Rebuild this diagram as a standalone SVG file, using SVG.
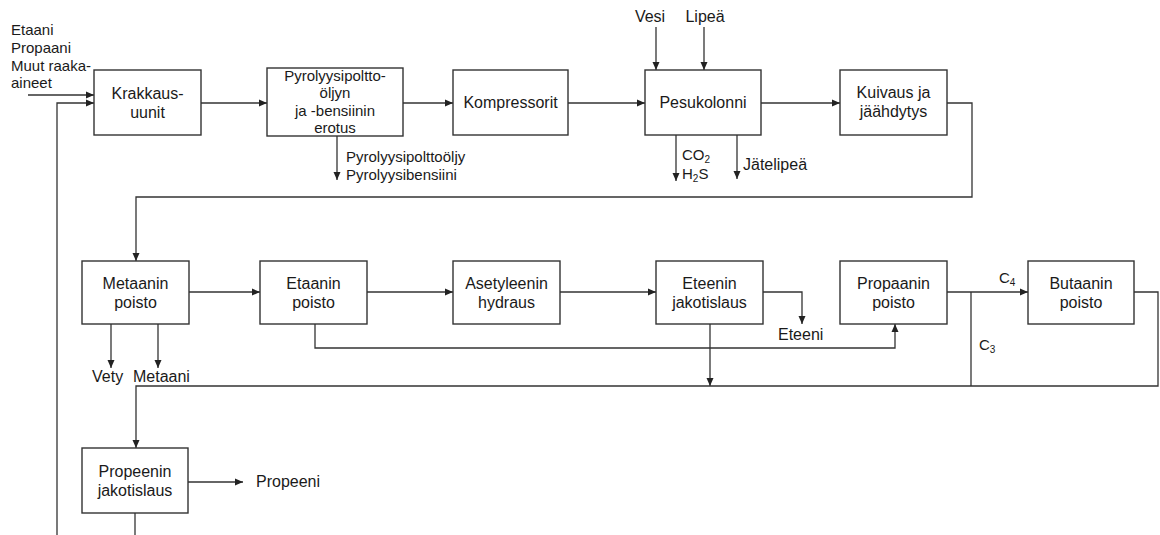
<svg xmlns="http://www.w3.org/2000/svg" width="1160" height="535" viewBox="0 0 1160 535">
<style>
.box{fill:#fff;stroke:#333;stroke-width:1.4}
.t{font-family:"Liberation Sans",Arial,sans-serif;font-size:16px;fill:#1a1a1a;text-anchor:middle}
.l{font-family:"Liberation Sans",Arial,sans-serif;font-size:16px;fill:#1a1a1a}
.s{font-size:15px}
.c{fill:none;stroke:#333;stroke-width:1.3}
</style>
<defs>
<marker id="a" markerUnits="userSpaceOnUse" markerWidth="9" markerHeight="8" refX="8" refY="4" orient="auto">
<path d="M0,0.5 L8,4 L0,7.5 z" fill="#222"/>
</marker>
</defs>
<g id="connectors">
<path class="c" d="M28,95 H94" marker-end="url(#a)"/>
<path class="c" d="M57,535 V103 H94" marker-end="url(#a)"/>
<path class="c" d="M201,103 H267" marker-end="url(#a)"/>
<path class="c" d="M403,103 H453" marker-end="url(#a)"/>
<path class="c" d="M568,103 H645" marker-end="url(#a)"/>
<path class="c" d="M761,103 H840" marker-end="url(#a)"/>
<path class="c" d="M656,27 V70" marker-end="url(#a)"/>
<path class="c" d="M704,27 V70" marker-end="url(#a)"/>
<path class="c" d="M676,135 V181" marker-end="url(#a)"/>
<path class="c" d="M737,135 V179" marker-end="url(#a)"/>
<path class="c" d="M337,136 V180" marker-end="url(#a)"/>
<path class="c" d="M947,103 H972 V197 H136 V261" marker-end="url(#a)"/>
<path class="c" d="M189,292 H260" marker-end="url(#a)"/>
<path class="c" d="M367,292 H453" marker-end="url(#a)"/>
<path class="c" d="M560,292 H656" marker-end="url(#a)"/>
<path class="c" d="M763,292 H802 V324" marker-end="url(#a)"/>
<path class="c" d="M710,324 V386" marker-end="url(#a)"/>
<path class="c" d="M315,324 V348 H895 V324" marker-end="url(#a)"/>
<path class="c" d="M947,292 H1028" marker-end="url(#a)"/>
<path class="c" d="M971,292 V386"/>
<path class="c" d="M1134,292 H1158 V386 H136 V448" marker-end="url(#a)"/>
<path class="c" d="M188,482 H243" marker-end="url(#a)"/>
<path class="c" d="M135,513 V535"/>
<path class="c" d="M111,324 V368" marker-end="url(#a)"/>
<path class="c" d="M158,324 V368" marker-end="url(#a)"/>
</g>
<g id="labels">
<text class="l s" x="11" y="35">Etaani</text>
<text class="l s" x="11" y="53">Propaani</text>
<text class="l s" x="11" y="71">Muut raaka-</text>
<text class="l s" x="11" y="88">aineet</text>
<text class="t" x="650" y="22">Vesi</text>
<text class="t" x="705" y="22">Lipeä</text>
<text class="l s" x="346" y="162">Pyrolyysipolttoöljy</text>
<text class="l s" x="346" y="180">Pyrolyysibensiini</text>
<text class="l s" x="682" y="160">CO<tspan font-size="10" dy="3">2</tspan></text>
<text class="l s" x="682" y="179">H<tspan font-size="10" dy="3">2</tspan><tspan dy="-3">S</tspan></text>
<text class="l" x="743" y="170">Jätelipeä</text>
<text class="l" x="92" y="382">Vety</text>
<text class="l" x="133" y="382">Metaani</text>
<text class="l" x="778" y="340">Eteeni</text>
<text class="l s" x="999" y="283">C<tspan font-size="10" dy="3">4</tspan></text>
<text class="l s" x="979" y="350">C<tspan font-size="10" dy="3">3</tspan></text>
<text class="l" x="256" y="487">Propeeni</text>
</g>
<g id="krakkaus"><rect class="box" x="94" y="70" width="107" height="65"/><text class="t" x="147.5" y="99">Krakkaus-</text><text class="t" x="147.5" y="118">uunit</text></g>
<g id="pyrolyysi"><rect class="box" x="267" y="68" width="136" height="68"/><text class="t s" x="335" y="81">Pyrolyysipoltto-</text><text class="t s" x="335" y="98">öljyn</text><text class="t s" x="335" y="116">ja -bensiinin</text><text class="t s" x="335" y="133">erotus</text></g>
<g id="kompressorit"><rect class="box" x="453" y="70" width="115" height="65"/><text class="t" x="510.5" y="108">Kompressorit</text></g>
<g id="pesukolonni"><rect class="box" x="645" y="70" width="116" height="65"/><text class="t" x="703" y="108">Pesukolonni</text></g>
<g id="kuivaus"><rect class="box" x="840" y="70" width="107" height="65"/><text class="t" x="893.5" y="98">Kuivaus ja</text><text class="t" x="893.5" y="117">jäähdytys</text></g>
<g id="metaanin"><rect class="box" x="82" y="261" width="107" height="63"/><text class="t" x="135.5" y="289">Metaanin</text><text class="t" x="135.5" y="308">poisto</text></g>
<g id="etaanin"><rect class="box" x="260" y="261" width="107" height="63"/><text class="t" x="313.5" y="289">Etaanin</text><text class="t" x="313.5" y="308">poisto</text></g>
<g id="asetyleenin"><rect class="box" x="453" y="261" width="107" height="63"/><text class="t" x="506.5" y="289">Asetyleenin</text><text class="t" x="506.5" y="308">hydraus</text></g>
<g id="eteenin"><rect class="box" x="656" y="261" width="107" height="63"/><text class="t" x="709.5" y="289">Eteenin</text><text class="t" x="709.5" y="308">jakotislaus</text></g>
<g id="propaanin"><rect class="box" x="840" y="261" width="107" height="63"/><text class="t" x="893.5" y="289">Propaanin</text><text class="t" x="893.5" y="308">poisto</text></g>
<g id="butaanin"><rect class="box" x="1028" y="261" width="106" height="63"/><text class="t" x="1081" y="289">Butaanin</text><text class="t" x="1081" y="308">poisto</text></g>
<g id="propeenin"><rect class="box" x="82" y="448" width="106" height="65"/><text class="t" x="135" y="477">Propeenin</text><text class="t" x="135" y="496">jakotislaus</text></g>
</svg>
